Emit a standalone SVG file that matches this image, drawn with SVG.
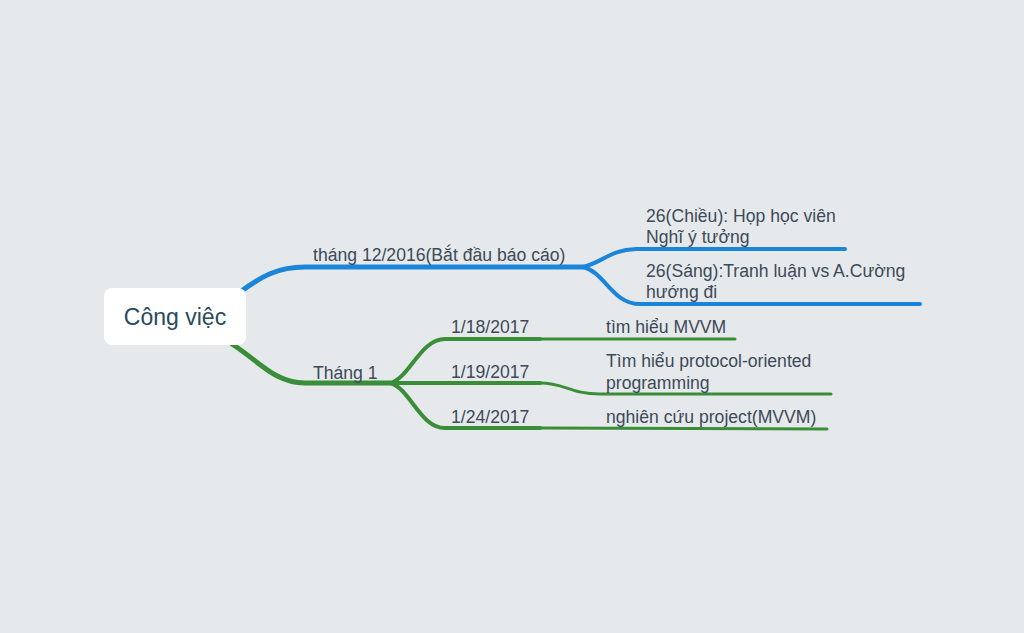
<svg xmlns="http://www.w3.org/2000/svg" width="1024" height="633" viewBox="0 0 1024 633">
<style>
.t{font-family:"Liberation Sans",Arial,sans-serif;font-size:17.6px;fill:#3d4a58}
.b{fill:none;stroke:#1b86d9;stroke-linecap:round}
.g{fill:none;stroke:#3a8e37;stroke-linecap:round}
</style>
<rect width="1024" height="633" fill="#e6e9ec"/>
<g id="connectors">
<path class="b" stroke-width="5" d="M240 292 C262 276 278 267 305 267 L583 267"/>
<path class="b" stroke-width="4" d="M583 267 C603 262 610 250 636 249 L845 249"/>
<path class="b" stroke-width="4" d="M583 267 C605 272 612 304 640 304 L920 304"/>
<path class="g" stroke-width="5" d="M232 344 C260 362 275 383 305 383 L390 383"/>
<path class="g" stroke-width="4" d="M390 383 C410 378 420 339 445 339 L540 339"/>
<path class="g" stroke-width="3" d="M540 339 L735 339"/>
<path class="g" stroke-width="4" d="M390 383 L540 383"/>
<path class="g" stroke-width="3" d="M540 383 C565 383 570 394 600 394 L831 394"/>
<path class="g" stroke-width="4" d="M390 383 C410 388 420 428 445 428 L540 428"/>
<path class="g" stroke-width="3" d="M540 428 L827 429"/>
</g>
<g id="root">
<rect x="104" y="288" width="142" height="57" rx="8" fill="#ffffff"/>
<text x="175" y="325" text-anchor="middle" style="font-family:'Liberation Sans',Arial,sans-serif;font-size:23px;fill:#2a4a5c">Công việc</text>
</g>
<g id="n-thang12"><text class="t" x="313" y="261">tháng 12/2016(Bắt đầu báo cáo)</text></g>
<g id="n-26chieu"><text class="t" x="646" y="222">26(Chiều): Họp học viên</text><text class="t" x="646" y="243">Nghĩ ý tưởng</text></g>
<g id="n-26sang"><text class="t" x="646" y="277">26(Sáng):Tranh luận vs A.Cường</text><text class="t" x="646" y="298">hướng đi</text></g>
<g id="n-thang1"><text class="t" x="313" y="379">Tháng 1</text></g>
<g id="n-d1"><text class="t" x="451" y="333">1/18/2017</text></g>
<g id="n-d2"><text class="t" x="451" y="378">1/19/2017</text></g>
<g id="n-d3"><text class="t" x="451" y="423">1/24/2017</text></g>
<g id="n-mvvm"><text class="t" x="606" y="333">tìm hiểu MVVM</text></g>
<g id="n-pop"><text class="t" x="606" y="367">Tìm hiểu protocol-oriented</text><text class="t" x="606" y="389">programming</text></g>
<g id="n-proj"><text class="t" x="606" y="423">nghiên cứu project(MVVM)</text></g>
</svg>
